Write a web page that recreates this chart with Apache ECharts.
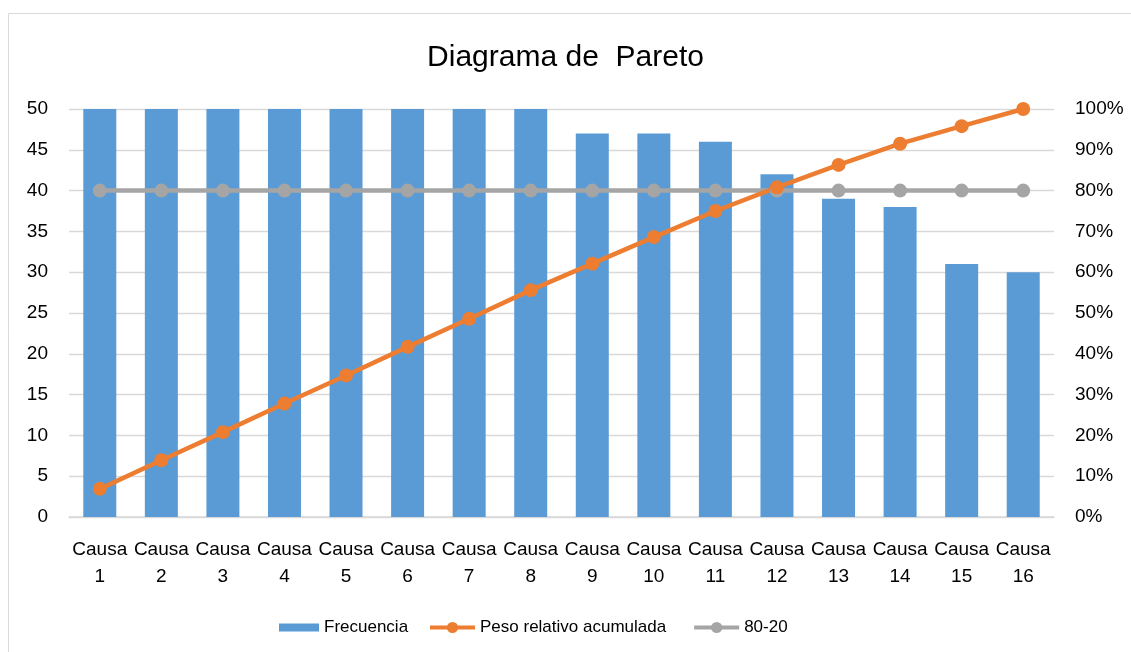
<!DOCTYPE html>
<html>
<head>
<meta charset="utf-8">
<script src="https://cdn.jsdelivr.net/npm/echarts@6/dist/echarts.min.js"></script>
<style>
    html, body { margin: 0; padding: 0; background: #fff; }
    #chart { width: 1131px; height: 652px; }
</style>
</head>
<body>
<div id="chart"></div>
<script>
    // categorías y valores
    const causas = ['Causa\n1', 'Causa\n2', 'Causa\n3', 'Causa\n4', 'Causa\n5', 'Causa\n6', 'Causa\n7', 'Causa\n8',
        'Causa\n9', 'Causa\n10', 'Causa\n11', 'Causa\n12', 'Causa\n13', 'Causa\n14', 'Causa\n15', 'Causa\n16'];
    const frecuencia = [50, 50, 50, 50, 50, 50, 50, 50, 47, 47, 46, 42, 39, 38, 31, 30];
    const pesoAcumulado = [6.9, 13.9, 20.8, 27.8, 34.7, 41.7, 48.6, 55.6, 62.1, 68.6, 75.0, 80.8, 86.3, 91.5, 95.8, 100];
    const linea8020 = [80, 80, 80, 80, 80, 80, 80, 80, 80, 80, 80, 80, 80, 80, 80, 80];

    const font = "'Liberation Sans Narrow', 'Arial Narrow', 'Liberation Sans', Arial, sans-serif";

    const chart = echarts.init(document.getElementById('chart'));
    const option = {
        textStyle: { fontFamily: font },
        graphic: [{
            type: 'rect',
            shape: { x: 8.5, y: 13.5, width: 1140, height: 660 },
            style: { fill: 'none', stroke: '#d9d9d9', lineWidth: 1 },
            silent: true
        }],
        title: {
            text: 'Diagrama de  Pareto',
            left: 'center',
            top: 38,
            textStyle: { fontFamily: font, fontSize: 30, fontWeight: 'normal', color: '#000' }
        },
        // dos leyendas para poder dar distinto alto al icono de barra y a los de línea
        legend: [{
            left: 274,
            top: 614,
            itemWidth: 40,
            itemHeight: 8,
            textStyle: { fontFamily: font, fontSize: 17, color: '#000' },
            data: [{ name: 'Frecuencia', icon: 'rect' }]
        }, {
            left: 423,
            top: 614,
            itemWidth: 45,
            itemHeight: 14,
            itemGap: 26,
            lineStyle: { width: 4 },
            textStyle: { fontFamily: font, fontSize: 17, color: '#000' },
            data: ['Peso relativo acumulada', '80-20']
        }],
        grid: { left: 69, right: 77, top: 109, bottom: 135 },
        xAxis: {
            type: 'category',
            data: causas,
            axisTick: { show: false },
            axisLine: { lineStyle: { color: '#d9d9d9', width: 1.5 } },
            axisLabel: { color: '#000', fontSize: 19, lineHeight: 27, margin: 19, interval: 0, fontFamily: font }
        },
        yAxis: [{
            type: 'value',
            min: 0, max: 50, interval: 5,
            axisLine: { show: false },
            axisTick: { show: false },
            splitLine: { lineStyle: { color: '#d9d9d9', width: 1.3 } },
            axisLabel: { color: '#000', fontSize: 19, margin: 21, fontFamily: font }
        }, {
            type: 'value',
            min: 0, max: 100, interval: 10,
            axisLine: { show: false },
            axisTick: { show: false },
            splitLine: { show: false },
            axisLabel: { color: '#000', fontSize: 19, margin: 21, formatter: '{value}%', fontFamily: font }
        }],
        series: [{
            name: 'Frecuencia',
            type: 'bar',
            data: frecuencia,
            barWidth: 33,
            itemStyle: { color: '#5b9bd5' }
        }, {
            name: '80-20',
            type: 'line',
            yAxisIndex: 1,
            data: linea8020,
            symbol: 'circle',
            symbolSize: 14,
            lineStyle: { color: '#a5a5a5', width: 4.5 },
            itemStyle: { color: '#a5a5a5' }
        }, {
            name: 'Peso relativo acumulada',
            type: 'line',
            yAxisIndex: 1,
            data: pesoAcumulado,
            symbol: 'circle',
            symbolSize: 14,
            lineStyle: { color: '#ed7d31', width: 4.5 },
            itemStyle: { color: '#ed7d31' }
        }],
        animation: false
    };
    chart.setOption(option);
</script>
</body>
</html>
